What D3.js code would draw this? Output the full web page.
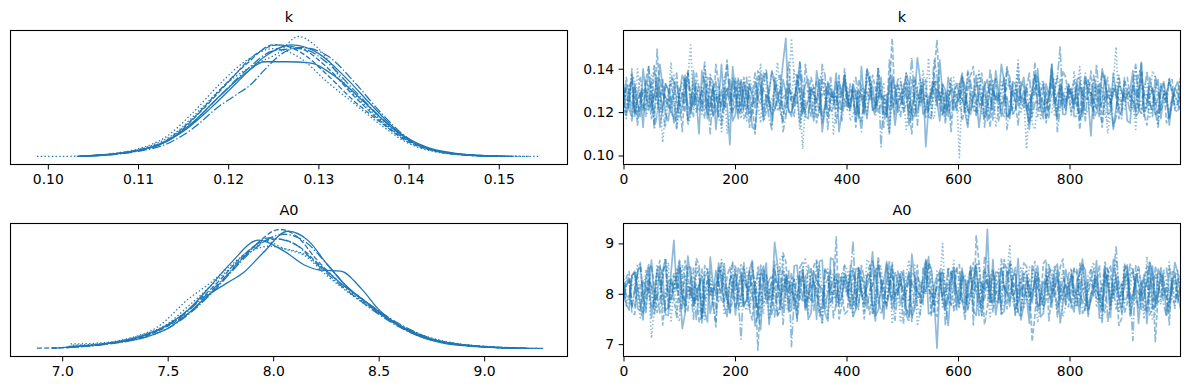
<!DOCTYPE html>
<html lang="en">
<head>
<meta charset="UTF-8">
<title>Trace plot</title>
<script src="https://cdnjs.cloudflare.com/ajax/libs/d3/7.8.5/d3.min.js"></script>
<style>
    body { margin: 0; background: #fff; }
    svg text { font-family: "DejaVu Sans", sans-serif; fill: #000; }
</style>
</head>
<body>
<div id="chart"></div>
<script>
    // ---- data ----
    const varNames = ['k', 'A0'];

    // per-chain KDE knots [value, relative density]
    const kDensity = [
        [[0.1032,0.003],[0.106,0.014],[0.109,0.04],[0.112,0.09],[0.115,0.21],[0.118,0.40],[0.121,0.62],[0.124,0.83],[0.127,0.93],[0.130,0.86],[0.133,0.66],[0.136,0.42],[0.139,0.20],[0.142,0.08],[0.145,0.03],[0.148,0.01],[0.1515,0.002]],
        [[0.1045,0.008],[0.107,0.02],[0.110,0.055],[0.113,0.13],[0.116,0.31],[0.119,0.55],[0.122,0.77],[0.125,0.93],[0.128,0.90],[0.131,0.74],[0.134,0.50],[0.137,0.29],[0.140,0.13],[0.143,0.05],[0.146,0.02],[0.149,0.006],[0.152,0.002]],
        [[0.0988,0.002],[0.102,0.003],[0.105,0.008],[0.108,0.03],[0.111,0.08],[0.114,0.19],[0.117,0.40],[0.120,0.62],[0.123,0.77],[0.1255,0.86],[0.1278,1.0],[0.130,0.90],[0.133,0.60],[0.136,0.37],[0.139,0.18],[0.142,0.07],[0.145,0.025],[0.148,0.01],[0.1546,0.002]],
        [[0.1035,0.004],[0.107,0.02],[0.110,0.05],[0.113,0.12],[0.116,0.28],[0.119,0.50],[0.122,0.72],[0.125,0.88],[0.128,0.90],[0.131,0.78],[0.134,0.55],[0.137,0.32],[0.140,0.14],[0.143,0.05],[0.146,0.02],[0.150,0.004]],
        [[0.1035,0.003],[0.107,0.018],[0.110,0.05],[0.113,0.12],[0.116,0.28],[0.119,0.50],[0.122,0.70],[0.124,0.79],[0.1265,0.79],[0.129,0.78],[0.132,0.66],[0.135,0.46],[0.138,0.25],[0.141,0.10],[0.144,0.035],[0.147,0.012],[0.151,0.002]],
        [[0.105,0.01],[0.108,0.03],[0.111,0.07],[0.114,0.17],[0.117,0.38],[0.120,0.62],[0.123,0.85],[0.1255,0.93],[0.128,0.87],[0.131,0.68],[0.134,0.46],[0.137,0.28],[0.140,0.12],[0.143,0.045],[0.146,0.015],[0.150,0.003]],
        [[0.1035,0.004],[0.107,0.025],[0.110,0.065],[0.113,0.16],[0.116,0.36],[0.119,0.60],[0.122,0.80],[0.125,0.90],[0.128,0.82],[0.131,0.62],[0.134,0.44],[0.137,0.26],[0.140,0.11],[0.143,0.04],[0.146,0.015],[0.149,0.005],[0.1535,0.002]],
        [[0.1035,0.003],[0.107,0.016],[0.110,0.045],[0.113,0.10],[0.116,0.23],[0.119,0.42],[0.121,0.52],[0.1225,0.60],[0.124,0.72],[0.126,0.86],[0.128,0.91],[0.131,0.84],[0.134,0.62],[0.137,0.36],[0.140,0.15],[0.143,0.05],[0.146,0.015],[0.150,0.003]]
    ];

    const a0Density = [
        [[7.03,0.02],[7.2,0.04],[7.4,0.12],[7.5,0.20],[7.6,0.33],[7.7,0.52],[7.8,0.72],[7.93,0.91],[8.05,0.82],[8.15,0.70],[8.22,0.66],[8.32,0.65],[8.42,0.50],[8.5,0.33],[8.6,0.19],[8.7,0.10],[8.8,0.05],[8.95,0.02],[9.15,0.005]],
        [[6.88,0.005],[7.0,0.01],[7.2,0.04],[7.4,0.11],[7.5,0.19],[7.6,0.30],[7.7,0.46],[7.8,0.65],[7.9,0.84],[8.03,1.0],[8.12,0.93],[8.2,0.76],[8.3,0.58],[8.4,0.44],[8.5,0.30],[8.6,0.19],[8.7,0.11],[8.8,0.06],[9.0,0.02],[9.2,0.005]],
        [[7.04,0.04],[7.15,0.045],[7.3,0.08],[7.45,0.18],[7.6,0.42],[7.7,0.55],[7.8,0.70],[7.9,0.84],[7.97,0.90],[8.05,0.84],[8.15,0.78],[8.25,0.62],[8.35,0.48],[8.5,0.30],[8.6,0.20],[8.7,0.12],[8.85,0.05],[9.0,0.02],[9.15,0.005]],
        [[6.95,0.005],[7.1,0.02],[7.3,0.07],[7.45,0.15],[7.55,0.25],[7.65,0.40],[7.75,0.56],[7.85,0.75],[7.98,0.93],[8.1,0.88],[8.2,0.72],[8.3,0.56],[8.4,0.42],[8.5,0.29],[8.6,0.18],[8.7,0.10],[8.85,0.04],[9.05,0.01],[9.2,0.003]],
        [[7.0,0.01],[7.2,0.04],[7.4,0.10],[7.5,0.17],[7.6,0.30],[7.7,0.46],[7.78,0.55],[7.86,0.64],[7.95,0.80],[8.07,0.985],[8.17,0.90],[8.25,0.72],[8.35,0.52],[8.45,0.38],[8.55,0.25],[8.65,0.15],[8.75,0.08],[8.9,0.03],[9.1,0.008],[9.28,0.003]],
        [[6.95,0.006],[7.1,0.02],[7.3,0.07],[7.45,0.15],[7.55,0.26],[7.65,0.41],[7.75,0.58],[7.85,0.77],[7.95,0.90],[8.02,0.92],[8.12,0.86],[8.22,0.70],[8.32,0.55],[8.42,0.42],[8.52,0.28],[8.62,0.17],[8.72,0.09],[8.85,0.045],[9.0,0.015],[9.2,0.004]],
        [[7.05,0.03],[7.2,0.045],[7.35,0.10],[7.5,0.21],[7.6,0.36],[7.7,0.52],[7.8,0.68],[7.9,0.82],[7.98,0.86],[8.05,0.84],[8.15,0.79],[8.25,0.66],[8.35,0.50],[8.45,0.36],[8.55,0.24],[8.65,0.14],[8.8,0.06],[8.95,0.025],[9.2,0.005]],
        [[7.02,0.01],[7.2,0.035],[7.4,0.10],[7.5,0.17],[7.6,0.29],[7.7,0.45],[7.8,0.64],[7.9,0.82],[8.05,0.96],[8.15,0.90],[8.25,0.72],[8.35,0.52],[8.45,0.38],[8.55,0.26],[8.65,0.16],[8.75,0.085],[8.9,0.035],[9.1,0.008],[9.25,0.003]]
    ];

    // sampled draws per chain, k in units of 0.001 (even draws)
    const kTrace = [
        [127,121,133,118,129,124,136,122,130,115,128,134,120,126,139,117,131,125,122,135,
         119,128,132,113,127,137,124,121,130,154,118,129,126,135,116,131,123,128,138,120,
         127,133,117,125,130,122,136,119,128,124,131,114,127,135,121,129,125,133,118,126,
         132,120,128,137,123,116,130,126,134,119,125,131,122,128,140,117,127,124,133,121,
         129,135,118,126,131,123,137,120,128,125,116,132,127,122,136,119,130,126,124,129],
        [124,131,119,128,135,126,149,121,130,117,127,133,122,129,125,136,118,128,131,123,
         134,120,127,125,139,116,129,132,121,128,124,137,119,130,126,122,133,127,115,129,
         125,131,120,128,136,123,127,118,154,126,132,121,129,124,135,117,128,131,122,127,
         130,123,137,119,128,125,132,116,129,134,121,127,124,130,118,133,126,129,122,136,
         120,128,125,131,117,129,134,123,127,121,130,126,138,119,128,124,132,115,127,125],
        [129,122,134,126,118,131,124,106,128,137,121,127,151,125,119,132,128,123,136,120,
         127,133,116,129,124,138,121,128,131,119,154,126,122,130,117,134,125,129,121,127,
         132,119,128,125,137,122,130,116,127,133,124,129,120,135,126,118,131,124,128,136,
         121,127,133,118,129,125,131,122,136,119,128,124,130,115,127,134,121,129,126,132,
         118,128,124,135,122,130,127,119,150,125,131,121,128,133,117,126,130,123,129,124],
        [122,130,127,136,119,125,131,120,128,134,117,129,124,138,121,127,132,118,126,130,
         123,135,120,128,126,131,117,129,137,122,127,124,133,119,130,125,121,136,128,116,
         129,133,122,127,131,120,104,128,135,124,130,119,126,132,121,128,137,118,125,129,
         127,122,134,120,129,131,116,128,125,136,121,127,133,119,130,124,128,135,122,126,
         131,118,128,125,137,121,129,124,132,117,127,134,122,128,126,120,133,125,129,123],
        [131,124,118,129,135,121,127,132,116,128,123,137,120,126,130,119,134,125,122,105,
         128,134,121,127,131,118,126,136,123,129,120,132,125,117,128,135,122,130,127,121,
         124,130,127,119,134,122,128,125,137,120,129,133,118,126,104,131,123,128,136,121,
         126,132,119,128,124,135,121,129,127,117,133,125,122,130,136,120,128,124,131,119,
         127,133,121,129,125,118,134,126,122,130,128,139,120,127,124,131,117,129,126,134],
        [119,127,132,124,130,117,128,135,122,126,131,120,128,134,123,127,118,133,125,129,
         136,121,127,124,130,116,129,133,122,128,125,137,119,126,131,123,129,120,134,127,
         122,128,135,120,126,131,124,118,129,133,121,127,136,123,128,125,153,119,130,126,
         133,120,127,124,138,122,129,126,118,131,125,134,121,128,123,130,117,127,135,124,
         128,122,131,126,119,133,127,124,130,121,136,125,128,118,132,126,123,129,135,120],
        [126,133,120,128,124,137,119,130,125,122,129,135,118,127,131,123,128,134,121,126,
         130,117,128,125,134,122,127,131,120,129,126,136,103,124,130,119,127,133,122,128,
         125,131,118,129,136,123,127,120,132,126,128,121,135,124,130,117,128,133,122,127,
         99,129,124,132,119,127,135,122,128,125,130,120,103,127,134,123,129,118,131,126,
         124,130,127,121,135,126,119,128,133,122,129,125,131,118,127,136,123,128,126,130],
        [133,125,121,129,127,134,119,128,124,131,122,136,126,120,129,125,132,117,128,123,
         129,124,136,119,127,132,125,121,130,118,128,134,123,126,131,120,137,127,124,129,
         121,127,130,124,133,118,128,126,122,135,120,129,125,131,117,128,134,123,127,130,
         124,129,121,133,126,119,130,127,136,122,128,125,131,118,127,134,121,129,150,124,
         130,123,128,135,120,127,124,131,118,129,126,133,122,128,125,137,121,127,130,124]
    ];

    // k in units of 0.001 (odd draws)
    const kTraceOdd = [
        [131,118,124,140,121,128,113,133,126,119,137,123,129,110,134,125,120,142,128,116,
         135,122,127,112,130,138,119,126,143,121,128,115,133,124,139,118,130,126,111,135,
         123,129,141,117,132,126,120,136,114,128,131,122,145,119,127,134,116,130,125,121,
         138,113,129,124,134,120,127,142,118,131,125,136,112,128,122,133,140,117,126,130,
         121,136,127,109,132,124,119,138,126,130,115,128,143,122,129,120,134,117,131,125],
        [118,135,126,121,141,114,129,133,120,127,111,138,124,130,117,134,126,122,144,119,
         128,136,113,125,131,120,139,127,116,133,122,129,142,118,126,135,112,130,124,137,
         121,127,115,134,128,140,119,131,123,126,136,110,129,132,118,138,125,121,133,127,
         116,130,141,122,128,113,135,124,131,119,137,126,120,143,128,115,132,123,139,127,
         125,112,134,129,120,138,124,131,117,135,127,122,140,114,130,126,133,119,128,136],
        [125,138,117,131,123,142,128,120,134,113,129,136,122,127,141,118,130,125,110,133,
         121,128,137,124,115,131,127,143,120,126,135,112,129,132,123,139,118,127,134,122,
         116,130,126,140,121,128,133,111,127,124,138,119,131,126,145,117,129,122,135,120,
         132,114,128,139,125,121,136,127,118,130,142,123,128,112,134,126,120,137,124,131,
         139,116,129,123,133,127,110,135,121,128,125,141,119,132,126,114,130,136,122,128],
        [133,116,128,124,141,120,130,113,136,126,122,139,118,131,127,110,134,125,142,121,
         129,117,132,138,124,127,112,135,120,130,126,143,119,128,134,115,129,123,137,126,
         120,136,111,130,125,140,127,121,133,118,128,135,114,131,124,144,122,129,117,134,
         126,139,121,128,113,133,127,124,140,119,131,125,116,137,128,122,134,111,129,126,
         118,132,138,123,127,115,136,129,121,134,125,142,119,128,131,113,127,135,122,130],
        [120,137,126,113,131,128,142,119,127,134,122,116,139,125,129,136,112,130,124,141,
         117,126,133,122,138,128,114,129,135,120,127,143,118,131,125,111,134,127,122,137,
         130,116,128,140,121,133,126,110,131,124,138,119,127,135,122,129,144,117,130,125,
         136,121,128,113,132,126,139,118,127,134,123,130,115,137,126,121,142,128,119,133,
         124,117,136,129,122,140,127,112,133,125,130,118,138,126,121,135,128,114,131,127],
        [136,123,114,130,127,141,120,126,133,112,129,138,124,121,135,127,142,116,131,125,
         119,134,128,110,132,124,139,121,127,143,118,130,125,136,115,128,133,122,127,140,
         126,113,131,129,137,120,125,144,119,128,134,116,130,126,121,139,128,124,111,133,
         127,138,122,129,117,135,126,120,141,128,114,132,125,137,122,129,142,118,127,131,
         135,119,126,139,124,113,130,128,122,136,127,120,143,125,131,117,128,134,121,126],
        [117,129,140,122,131,116,128,125,143,120,134,114,127,132,121,138,126,111,130,125,
         136,123,119,129,142,127,121,133,115,126,139,128,124,131,118,134,125,110,129,137,
         122,127,133,119,125,141,128,116,130,134,112,127,126,139,121,132,124,119,136,128,
         130,120,127,138,123,129,113,134,126,121,144,127,125,131,117,128,137,122,126,133,
         129,141,119,127,124,132,115,130,137,121,128,112,134,126,139,123,130,118,127,135],
        [126,140,118,130,123,112,135,127,120,138,129,116,133,125,143,121,128,114,131,136,
         122,129,117,134,126,140,121,128,111,132,125,137,120,130,124,142,118,127,135,126,
         133,119,128,139,122,127,113,131,126,136,124,145,119,129,123,134,127,115,130,128,
         137,121,126,131,118,140,125,129,112,133,127,122,138,124,130,117,128,136,121,132,
         125,134,116,129,142,122,128,113,136,127,120,131,126,139,118,129,124,135,127,121]
    ];

    // sampled draws per chain, A0 in units of 0.01 (even draws)
    const a0Trace = [
        [805,768,842,779,831,752,847,801,773,906,824,761,853,788,835,744,818,861,776,829,
         758,838,790,866,771,823,739,849,806,834,767,857,787,749,844,815,762,871,783,832,
         801,755,851,779,838,746,822,864,770,810,846,753,829,794,868,763,834,786,737,847,
         810,771,852,757,820,928,788,842,766,859,803,748,831,782,855,761,837,813,742,848,
         780,826,869,768,805,752,844,790,833,763,857,797,741,838,817,774,852,758,829,801],
        [796,834,759,862,806,772,845,738,825,791,853,764,815,870,751,829,784,843,810,760,
         857,787,820,748,688,846,797,832,769,864,808,745,839,790,818,756,852,781,828,803,
         765,844,813,750,859,789,831,773,848,801,740,841,812,778,866,757,823,794,849,770,
         826,749,855,915,797,839,764,809,868,786,821,756,845,804,772,860,746,833,799,817,
         772,848,807,755,829,793,863,779,818,752,841,800,856,766,812,705,836,789,827,783],
        [817,781,843,752,825,796,858,769,811,838,745,828,792,862,774,816,803,847,758,831,
         788,860,767,821,797,842,749,812,869,778,834,794,852,761,820,806,846,773,828,795,
         848,756,815,791,861,770,826,801,740,839,813,784,857,763,829,797,845,774,818,866,
         780,827,802,853,754,812,841,789,860,895,768,823,796,848,743,815,790,857,807,776,
         835,797,856,759,818,787,845,804,867,771,827,793,851,750,812,839,779,822,800,846],
        [785,826,805,853,763,818,793,844,771,812,866,788,824,747,849,801,776,838,809,760,
         841,794,815,862,773,827,797,754,851,807,695,835,790,858,767,818,803,847,781,823,
         796,905,769,830,809,853,759,820,792,845,801,744,837,795,860,774,813,848,787,826,
         806,763,846,817,790,865,776,828,799,840,757,815,854,793,810,770,844,797,822,779,
         851,804,761,836,811,790,859,783,893,821,796,843,772,808,864,787,829,755,817,801],
        [822,792,845,766,814,867,796,838,757,809,852,783,829,802,742,843,793,818,860,774,
         808,840,786,820,761,855,798,902,777,829,805,751,847,794,822,864,771,812,839,796,
         817,779,851,801,835,756,810,859,788,827,797,844,769,818,806,849,692,830,792,853,
         781,820,803,846,758,829,868,797,813,775,840,807,794,856,766,824,801,848,785,819,
         838,795,858,772,811,804,845,753,827,798,853,783,820,806,863,776,836,793,812,842],
        [801,844,776,818,793,857,763,829,805,840,785,866,797,815,756,847,807,826,787,853,
         771,820,803,848,752,834,795,859,780,812,842,789,825,801,856,767,817,796,913,778,
         826,791,852,808,759,840,818,784,862,803,837,773,823,797,849,810,755,846,790,815,
         858,783,833,801,821,774,847,793,813,866,768,829,806,705,842,789,819,800,853,780,
         810,840,787,824,796,857,763,835,807,818,782,848,802,829,758,855,794,815,843,786],
        [837,795,812,772,848,712,823,789,862,805,766,835,797,819,754,853,809,782,843,802,
         820,775,851,796,838,760,811,864,790,828,803,768,846,815,784,858,797,824,773,840,
         806,786,847,763,826,800,855,779,835,810,791,867,771,819,799,845,785,900,812,764,
         841,808,791,859,773,827,803,849,784,815,758,852,795,833,809,777,857,797,820,789,
         846,777,816,804,863,793,827,770,841,811,797,852,782,823,803,759,838,809,786,832],
        [792,828,808,858,771,816,797,845,784,821,867,776,807,839,753,825,801,852,782,817,
         840,710,813,795,855,779,827,804,765,838,819,788,862,800,823,774,846,808,790,834,
         803,851,778,821,796,840,813,770,857,806,789,830,810,758,847,801,823,786,853,812,
         773,836,805,861,794,818,843,782,811,801,852,765,826,803,840,787,859,807,820,795,
         838,777,813,800,849,791,822,855,770,809,841,707,818,797,833,804,786,851,812,826]
    ];

    // A0 in units of 0.01 (odd draws)
    const a0TraceOdd = [
        [779,836,812,748,858,795,821,767,843,806,731,852,789,817,764,873,801,826,755,838,
         813,774,847,796,729,861,782,819,804,768,855,792,836,761,827,810,746,868,787,821,
         842,769,805,836,781,857,750,824,798,815,773,879,792,833,760,817,845,786,809,772,
         851,794,766,829,808,783,843,759,821,797,870,778,812,835,754,826,799,847,781,816,
         764,839,804,787,866,752,822,809,793,848,775,830,806,741,855,798,818,784,837,770],
        [824,761,843,797,810,778,866,785,827,752,839,803,776,858,791,818,734,846,812,788,
         805,853,769,826,794,838,757,815,881,782,829,800,766,849,807,773,836,795,821,760,
         846,785,812,831,758,874,796,819,781,833,804,745,857,790,823,768,840,807,779,852,
         797,815,738,862,786,829,803,771,845,812,759,837,795,824,784,868,801,754,831,808,
         850,776,823,792,811,768,846,803,737,859,789,825,815,772,843,797,831,762,820,805],
        [789,829,806,770,852,781,837,798,824,764,858,811,786,832,749,845,796,820,771,861,
         805,777,843,816,758,834,801,790,877,764,827,812,783,851,796,739,840,808,772,855,
         783,833,797,868,760,821,806,843,778,815,792,855,736,829,810,776,848,799,824,766,
         836,804,779,862,813,751,830,796,842,787,819,770,853,806,781,839,799,828,755,816,
         773,842,808,794,831,765,852,788,814,837,761,829,803,874,785,811,846,772,833,798],
        [816,773,842,796,829,758,812,871,785,834,799,766,851,808,787,823,745,861,795,818,
         770,836,806,792,857,781,824,810,739,848,793,829,776,815,864,788,806,752,839,811,
         830,787,858,769,816,801,782,866,796,823,759,841,805,779,853,792,818,737,845,808,
         784,829,801,757,872,798,813,781,843,820,793,861,768,831,805,789,850,776,813,838,
         796,827,771,848,790,815,743,836,808,782,859,797,825,764,842,803,778,853,794,817],
        [797,836,771,825,804,783,853,759,829,812,790,875,776,818,833,761,846,801,788,822,
         851,779,815,736,838,806,792,859,771,824,797,843,785,812,749,867,803,826,780,834,
         771,849,796,813,883,767,827,804,842,779,818,755,836,801,863,789,816,774,829,802,
         844,768,832,797,821,786,758,851,808,835,782,817,741,843,796,826,773,859,805,788,
         812,760,847,801,834,777,819,868,792,811,756,838,797,825,770,849,807,783,862,794],
        [832,779,808,761,846,814,792,871,785,823,769,838,811,744,856,798,820,783,835,807,
         795,862,774,817,841,788,826,756,849,803,771,833,812,787,867,779,829,804,750,843,
         808,771,836,795,820,863,781,814,798,845,759,827,806,788,874,766,832,811,779,850,
         783,819,862,794,739,836,805,825,770,847,812,791,828,758,816,837,783,806,869,774,
         851,797,766,830,813,780,846,798,823,762,837,809,786,855,771,824,801,738,845,812],
        [776,821,859,791,810,767,837,803,746,852,786,818,831,773,844,798,815,868,781,827,
         803,849,768,822,795,836,781,855,812,764,830,797,872,786,819,806,752,841,793,828,
         857,779,815,834,767,851,792,822,806,743,839,812,788,829,861,775,818,797,840,783,
         812,769,836,798,853,781,826,758,844,807,790,835,774,866,799,818,832,761,847,804,
         779,829,801,847,773,818,836,795,762,858,809,784,826,815,748,842,797,863,781,820],
        [817,774,841,789,826,803,762,858,795,834,786,815,749,847,809,828,771,839,802,863,
         789,828,846,772,813,797,836,758,824,811,785,853,769,830,806,741,849,795,822,857,
         778,816,834,793,865,781,826,808,747,838,799,823,776,851,813,789,832,765,842,804,
         829,792,818,773,847,807,786,869,801,823,760,839,796,814,776,852,809,830,788,815,
         797,862,775,828,806,743,841,812,787,833,799,856,769,822,810,784,846,801,771,837]
    ];

    const kTicks = [0.10, 0.11, 0.12, 0.13, 0.14, 0.15];
    const a0Ticks = [7.0, 7.5, 8.0, 8.5, 9.0];
    const kTraceTicks = [0.10, 0.12, 0.14];
    const a0TraceTicks = [7, 8, 9];
    const drawTicks = [0, 200, 400, 600, 800];
    const lastDraw = 999;

    // even/odd draws -> one series per chain
    const interleave = (even, odd, unit) =>
        even.map((chain, c) => d3.merge(chain.map((v, j) => [v * unit, odd[c][j] * unit])));

    // ---- layout ----
    const color = '#1f77b4';
    const dashes = ['none', '5.1,2.2', '1.4,2.3', '8.9,2.2,1.4,2.2'];
    const leftCol = [10.5, 567.5];
    const rightCol = [623.5, 1180.5];

    const rows = [
        {name: varNames[0], density: kDensity, trace: interleave(kTrace, kTraceOdd, 0.001),
         domain: [0.09586, 0.15762], kdeTicks: kTicks, kdeFmt: d3.format('.2f'),
         traceTicks: kTraceTicks, traceFmt: d3.format('.2f'), top: 30.5, bottom: 164.5},
        {name: varNames[1], density: a0Density, trace: interleave(a0Trace, a0TraceOdd, 0.01),
         domain: [6.755, 9.395], kdeTicks: a0Ticks, kdeFmt: d3.format('.1f'),
         traceTicks: a0TraceTicks, traceFmt: d3.format('d'), top: 223.5, bottom: 356.5}
    ];

    const svg = d3.select('#chart')
        .append('svg')
        .attr('width', 1189)
        .attr('height', 390);

    function styleAxis(g) {
        g.attr('font-size', null).attr('font-family', null);
        g.select('.domain').remove();
        g.selectAll('.tick line').attr('stroke', '#000').attr('stroke-width', 1);
        g.selectAll('.tick text')
            .style('font-size', '13.9px')
            .style('font-family', '"DejaVu Sans", sans-serif')
            .attr('fill', '#000');
    }

    function frame(x0, x1, y0, y1) {
        svg.append('rect')
            .attr('x', x0).attr('y', y0)
            .attr('width', x1 - x0).attr('height', y1 - y0)
            .attr('fill', 'none')
            .attr('stroke', '#000')
            .attr('stroke-width', 1.1);
    }

    function title(text, x0, x1, y0) {
        svg.append('text')
            .attr('x', (x0 + x1) / 2)
            .attr('y', y0 - 8.5)
            .attr('text-anchor', 'middle')
            .style('font-size', '14.5px')
            .text(text);
    }

    rows.forEach((row, r) => {
        // ---- KDE panel ----
        const xScale = d3.scaleLinear().domain(row.domain).range(leftCol);
        const dScale = d3.scaleLinear().domain([-0.065, 1.05]).range([row.bottom, row.top]);

        const kde = d3.line()
            .x(d => xScale(d[0]))
            .y(d => dScale(d[1]))
            .curve(d3.curveMonotoneX);

        svg.append('g')
            .selectAll('path')
            .data(row.density)
            .enter()
            .append('path')
            .attr('fill', 'none')
            .attr('stroke', color)
            .attr('stroke-width', 1.3)
            .attr('stroke-dasharray', (d, i) => dashes[i % 4])
            .attr('d', kde);

        svg.append('g')
            .attr('transform', 'translate(0,' + row.bottom + ')')
            .call(d3.axisBottom(xScale).tickValues(row.kdeTicks).tickFormat(row.kdeFmt)
                .tickSizeInner(4.9).tickSizeOuter(0).tickPadding(4.4))
            .call(styleAxis);

        frame(leftCol[0], leftCol[1], row.top, row.bottom);
        title(row.name, leftCol[0], leftCol[1], row.top);

        // ---- trace panel ----
        const drawScale = d3.scaleLinear().domain([0, lastDraw]).range(rightCol);
        const vScale = d3.scaleLinear().domain(row.domain).range([row.bottom, row.top]);

        const clipId = 'clip' + r;
        svg.append('clipPath').attr('id', clipId)
            .append('rect')
            .attr('x', rightCol[0]).attr('y', row.top)
            .attr('width', rightCol[1] - rightCol[0]).attr('height', row.bottom - row.top);

        const traceLine = d3.line()
            .x((d, i, arr) => drawScale(i * lastDraw / (arr.length - 1)))
            .y(d => vScale(d));

        svg.append('g')
            .attr('clip-path', 'url(#' + clipId + ')')
            .selectAll('path')
            .data(row.trace)
            .enter()
            .append('path')
            .attr('fill', 'none')
            .attr('stroke', color)
            .attr('stroke-opacity', 0.5)
            .attr('stroke-width', 1.7)
            .attr('stroke-linejoin', 'round')
            .attr('stroke-dasharray', (d, i) => dashes[i % 4])
            .attr('d', traceLine);

        svg.append('g')
            .attr('transform', 'translate(0,' + row.bottom + ')')
            .call(d3.axisBottom(drawScale).tickValues(drawTicks).tickFormat(d3.format('d'))
                .tickSizeInner(4.9).tickSizeOuter(0).tickPadding(4.4))
            .call(styleAxis);

        svg.append('g')
            .attr('transform', 'translate(' + rightCol[0] + ',0)')
            .call(d3.axisLeft(vScale).tickValues(row.traceTicks).tickFormat(row.traceFmt)
                .tickSizeInner(4.9).tickSizeOuter(0).tickPadding(4.4))
            .call(styleAxis);

        frame(rightCol[0], rightCol[1], row.top, row.bottom);
        title(row.name, rightCol[0], rightCol[1], row.top);
    });
</script>
</body>
</html>
